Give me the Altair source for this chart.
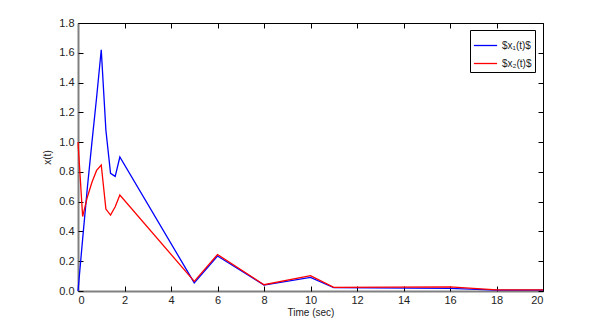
import altair as alt
import pandas as pd

x1_t = [0, 0.2, 0.4, 0.6, 0.8, 1.0, 1.2, 1.4, 1.6, 1.8, 5, 6, 8, 10, 11, 16, 18, 20]
x1_v = [0, 0.35, 0.69, 1.0, 1.3, 1.62, 1.08, 0.79, 0.77, 0.90, 0.055, 0.235, 0.04, 0.092, 0.022, 0.018, 0.006, 0.006]
x2_t = [0, 0.2, 0.4, 0.6, 0.8, 1.0, 1.2, 1.4, 1.6, 1.8, 5, 6, 8, 10, 11, 16, 18, 20]
x2_v = [1.0, 0.50, 0.63, 0.73, 0.81, 0.846, 0.55, 0.51, 0.566, 0.645, 0.065, 0.245, 0.042, 0.103, 0.025, 0.028, 0.007, 0.007]
names = ["$x₁(t)$", "$x₂(t)$"]
colors = ["#0000ff", "#ff0000"]
x_ticks = list(range(0, 21, 2))
y_ticks = [0, 0.2, 0.4, 0.6, 0.8, 1.0, 1.2, 1.4, 1.6, 1.8]

df = pd.concat([
    pd.DataFrame({"t": x1_t, "v": x1_v, "s": names[0]}),
    pd.DataFrame({"t": x2_t, "v": x2_v, "s": names[1]}),
])

FONT = "Liberation Sans"
xs = alt.Scale(domain=[0, 20], nice=False, zero=False)
ys = alt.Scale(domain=[0, 1.8], nice=False, zero=False)

lines = alt.Chart(df).mark_line(strokeWidth=1.3).encode(
    x=alt.X("t:Q", scale=xs, title="Time (sec)",
            axis=alt.Axis(values=x_ticks, ticks=False, domainColor="#808080", domainWidth=2,
                          labelFont=FONT, labelFontSize=11, labelColor="#222", labelPadding=3,
                          titleFont=FONT, titleFontSize=10, titleFontWeight="normal",
                          titleColor="#222", titlePadding=2, grid=False)),
    y=alt.Y("v:Q", scale=ys, title="x(t)",
            axis=alt.Axis(values=y_ticks, ticks=False, domainColor="#808080", domainWidth=2,
                          labelFont=FONT, labelFontSize=11, labelColor="#222", labelPadding=4,
                          titleFont=FONT, titleFontSize=10, titleFontWeight="normal",
                          titleColor="#222", titlePadding=6, grid=False)),
    color=alt.Color("s:N", scale=alt.Scale(domain=names, range=colors),
                    legend=alt.Legend(title=None, orient="none", legendX=392, legendY=7,
                                      symbolType="stroke", symbolSize=540, symbolStrokeWidth=1.3,
                                      labelFont=FONT, labelFontSize=10, labelColor="#222",
                                      labelOffset=4,
                                      strokeColor="#000", fillColor="#fff", padding=3,
                                      rowPadding=-1, offset=0)),
    detail="s:N",
)

tick_axis = dict(labels=False, domain=False, ticks=True, tickSize=5, tickColor="#000",
                 tickWidth=1, title=None, grid=False, offset=-5)

ticks1 = alt.Chart(df).mark_point(opacity=0).encode(
    x=alt.X("t:Q", scale=xs, axis=alt.Axis(orient="bottom", values=x_ticks, **tick_axis)),
    y=alt.Y("v:Q", scale=ys, axis=alt.Axis(orient="left", values=y_ticks, **tick_axis)),
)
ticks2 = alt.Chart(df).mark_point(opacity=0).encode(
    x=alt.X("t:Q", scale=xs, axis=alt.Axis(orient="top", values=x_ticks, **tick_axis)),
    y=alt.Y("v:Q", scale=ys, axis=alt.Axis(orient="right", values=y_ticks, **tick_axis)),
)

chart = alt.layer(lines, ticks1, ticks2).resolve_axis(x="independent", y="independent").properties(
    width=465, height=268,
    autosize=alt.AutoSizeParams(type="none"),
    padding={"left": 70, "top": 15, "right": 48, "bottom": 28},
    background="white",
).configure_view(stroke="#000", strokeWidth=1)

chart.save("out.html", embed_options={"renderer": "svg", "actions": False})
